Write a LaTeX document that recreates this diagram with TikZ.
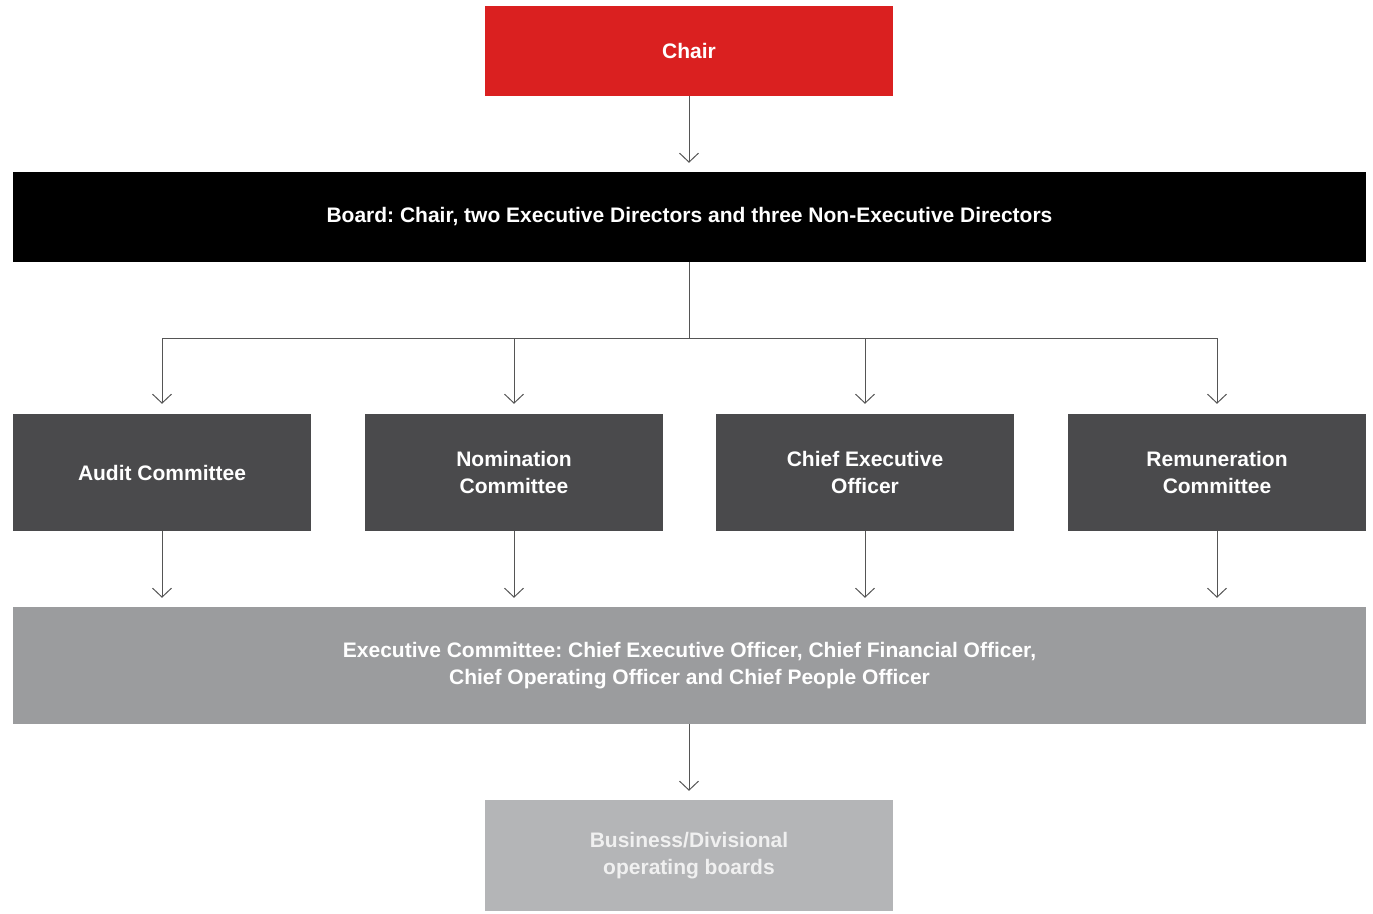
\documentclass[tikz,border=0pt]{standalone}
\usepackage{fontspec}
\setmainfont{Liberation Sans}
\usetikzlibrary{arrows.meta}
\definecolor{chairred}{RGB}{218,32,32}
\definecolor{commgray}{RGB}{74,74,76}
\definecolor{execgray}{RGB}{155,156,158}
\definecolor{busgray}{RGB}{180,181,183}
\definecolor{linegray}{RGB}{85,85,85}
\definecolor{bustext}{RGB}{240,240,240}
\tikzset{
  box/.style={rectangle, inner sep=0pt, align=center, text=white,
    font=\frenchspacing\bfseries\fontsize{21}{26.5}\selectfont},
  conn/.style={draw=linegray, line width=1pt},
  arr/.style={conn, -{Straight Barb[length=9pt,width=19pt,line width=1pt]}}
}
\begin{document}
\begin{tikzpicture}[x=1pt,y=-1pt]
\useasboundingbox (0,0) rectangle (1373,913);
\node[box, fill=chairred, minimum width=408pt, minimum height=90pt] (chair) at (689,51) {Chair};
\node[box, fill=black, minimum width=1353pt, minimum height=90pt] (board) at (689.5,217) {Board: Chair, two Executive Directors and three Non-Executive Directors};
\node[box, fill=commgray, minimum width=298pt, minimum height=117pt] (audit) at (162,472.5) {Audit Committee};
\node[box, fill=commgray, minimum width=298pt, minimum height=117pt] (nom) at (514,472.5) {Nomination\\Committee};
\node[box, fill=commgray, minimum width=298pt, minimum height=117pt] (ceo) at (865,472.5) {Chief Executive\\Officer};
\node[box, fill=commgray, minimum width=298pt, minimum height=117pt] (rem) at (1217,472.5) {Remuneration\\Committee};
\node[box, fill=execgray, minimum width=1353pt, minimum height=117pt] (exec) at (689.5,665.5) {Executive Committee: Chief Executive Officer, Chief Financial Officer,\\Chief Operating Officer and Chief People Officer};
\node[box, fill=busgray, text=bustext, minimum width=408pt, minimum height=111pt] (bus) at (689,855.5) {Business/Divisional\\operating boards};
\coordinate (split) at (689,338);
\coordinate (a1) at (162,338);
\coordinate (a4) at (1217,338);
\draw[arr] (chair.south -| 689,0) -- ([yshift=9pt]board.north -| 689,0);
\draw[conn] (board.south -| split) -- (split);
\draw[conn] (a1) -- (a4);
\draw[arr] (a1) -- ([yshift=10pt]audit.north);
\draw[arr] (split -| nom.north) -- ([yshift=10pt]nom.north);
\draw[arr] (split -| ceo.north) -- ([yshift=10pt]ceo.north);
\draw[arr] (a4) -- ([yshift=10pt]rem.north);
\foreach \n in {audit,nom,ceo,rem}
  \draw[arr] (\n.south) -- ([yshift=9pt]exec.north -| \n.south);
\draw[arr] (exec.south -| 689,0) -- ([yshift=9pt]bus.north);
\end{tikzpicture}
\end{document}
